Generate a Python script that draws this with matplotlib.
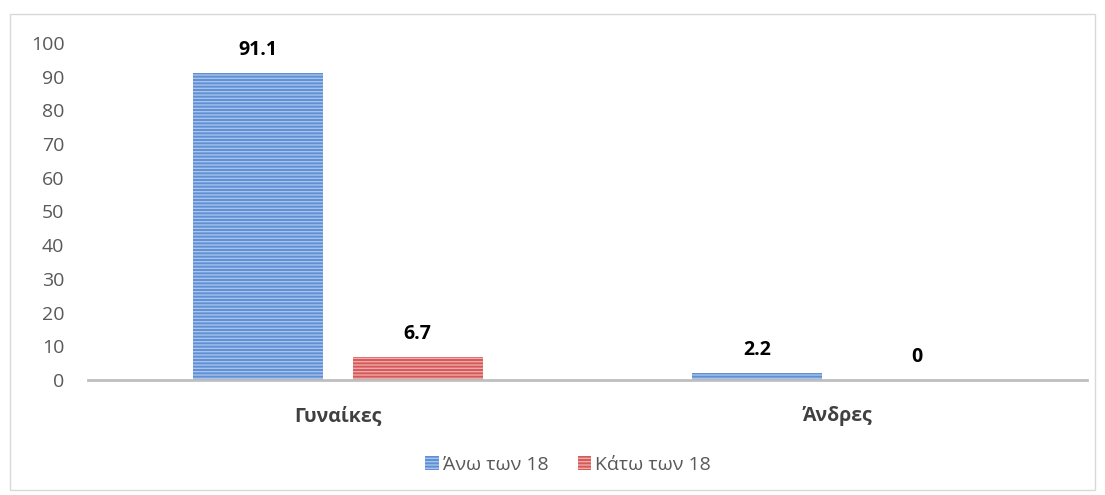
import matplotlib.pyplot as plt
from matplotlib.patches import Rectangle
import numpy as np

plt.rcParams['font.family'] = ['Open Sans', 'DejaVu Sans']

categories = ['Γυναίκες', 'Άνδρες']
series = ['Άνω των 18', 'Κάτω των 18']
above18 = [91.1, 2.2]
under18 = [6.7, 0]
yticks = [0, 10, 20, 30, 40, 50, 60, 70, 80, 90, 100]

fig = plt.figure(figsize=(11.05, 4.95), dpi=100)
fig.patches.append(Rectangle((10 / 1105, 5 / 495), 1085 / 1105, 476 / 495,
                             transform=fig.transFigure, fill=False,
                             edgecolor='#d9d9d9', linewidth=1))
ax = fig.add_axes([88 / 1105, 1 - 380 / 495, 999 / 1105, 337 / 495])

x = np.arange(len(categories))
w = 0.26
gap = 0.06
colors = [('#5f8fd4', '#a8c4ec'), ('#d45a5a', '#f0a8a8')]
for vals, off, (fc, hc), lab in [(above18, -(w + gap) / 2, colors[0], series[0]),
                                  (under18, (w + gap) / 2, colors[1], series[1])]:
    bars = ax.bar(x + off, vals, w, color=fc, edgecolor=hc, linewidth=0,
                  hatch='-----', label=lab)
    for b, v in zip(bars, vals):
        ax.annotate(f'{v:g}', (b.get_x() + b.get_width() / 2, v),
                    xytext=(0, 23), textcoords='offset pixels',
                    ha='center', va='center', fontsize=14, fontweight='bold',
                    color='black')

ax.set_xlim(-0.5, 1.5)
ax.set_ylim(0, 100)
ax.set_yticks(yticks)
ax.set_xticks(x)
ax.set_xticklabels(categories, fontsize=14, fontweight='bold', color='#404040')
ax.tick_params(axis='y', length=0, labelsize=14, labelcolor='#595959', pad=17)
ax.tick_params(axis='x', length=0, pad=19)
for s in ['top', 'right', 'left']:
    ax.spines[s].set_visible(False)
ax.spines['bottom'].set_color('#bfbfbf')
ax.spines['bottom'].set_linewidth(2)

ax.legend(loc='center', bbox_to_anchor=(568 / 1105, 1 - 465 / 495),
          bbox_transform=fig.transFigure, ncol=2, frameon=False,
          fontsize=14, handlelength=0.7, handleheight=0.7, handletextpad=0.2,
          columnspacing=1.5, labelcolor='#595959')

fig.savefig('out.png', dpi=100)
